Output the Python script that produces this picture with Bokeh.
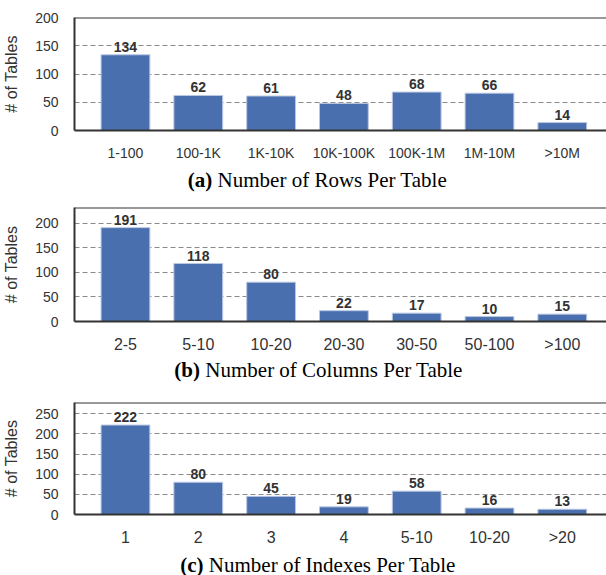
from bokeh.plotting import figure
from bokeh.models import Range1d, Span, FixedTicker, ColumnDataSource
from bokeh.layouts import column
from bokeh.embed import file_html
from bokeh.resources import INLINE
from bokeh.core.properties import value

# ---- data ----
rows_cats = ["1-100", "100-1K", "1K-10K", "10K-100K", "100K-1M", "1M-10M", ">10M"]
rows_vals = [134, 62, 61, 48, 68, 66, 14]
rows_yticks = [0, 50, 100, 150, 200]

cols_cats = ["2-5", "5-10", "10-20", "20-30", "30-50", "50-100", ">100"]
cols_vals = [191, 118, 80, 22, 17, 10, 15]
cols_yticks = [0, 50, 100, 150, 200]

idx_cats = ["1", "2", "3", "4", "5-10", "10-20", ">20"]
idx_vals = [222, 80, 45, 19, 58, 16, 13]
idx_yticks = [0, 50, 100, 150, 200, 250]

captions_bold = ["(a)", "(b)", "(c)"]
captions_rest = ["Number of Rows Per Table", "Number of Columns Per Table",
                 "Number of Indexes Per Table"]

SANS = "Liberation Sans"
SERIF = "Liberation Serif"
BAR = "#4a6fae"
DARK = "#333333"
W = 606


def make(cats, vals, yticks, ymax, xfont, frame_h, top, bottom):
    xs = list(range(len(cats)))
    src = ColumnDataSource(dict(x=xs, v=vals, lab=[str(v) for v in vals]))
    p = figure(frame_width=532, frame_height=frame_h,
               min_border_left=74, min_border_right=0, min_border_top=top,
               min_border_bottom=bottom,
               x_range=Range1d(-0.7, 6.607), y_range=Range1d(0, ymax),
               output_backend="svg", toolbar_location=None)
    p.outline_line_color = None
    p.xgrid.visible = False
    p.ygrid.ticker = FixedTicker(ticks=yticks[1:])
    p.ygrid.grid_line_color = "#8a8a8a"
    p.ygrid.grid_line_dash = "5 3"
    p.ygrid.grid_line_width = 1

    p.vbar(x="x", top="v", width=0.67, source=src,
           fill_color=BAR, line_color="#b9c7e2", line_width=1)
    p.text(x="x", y="v", text="lab", source=src, text_align="center",
           text_baseline="bottom", y_offset=-3,
           text_font=value(SANS), text_font_style="bold",
           text_font_size="14px", text_color=DARK)

    p.add_layout(Span(location=ymax, dimension="width", line_color=DARK, line_width=2))

    xa = p.xaxis[0]
    xa.ticker = FixedTicker(ticks=xs)
    xa.major_label_overrides = {i: c for i, c in zip(xs, cats)}
    xa.major_tick_line_color = None
    xa.minor_tick_line_color = None
    xa.axis_line_color = DARK
    xa.axis_line_width = 2
    xa.major_label_text_font = SANS
    xa.major_label_text_font_size = xfont
    xa.major_label_text_color = DARK
    xa.major_label_standoff = 8

    ya = p.yaxis[0]
    ya.ticker = FixedTicker(ticks=yticks)
    ya.major_tick_line_color = None
    ya.minor_tick_line_color = None
    ya.axis_line_color = DARK
    ya.axis_line_width = 2
    ya.major_label_text_font = SANS
    ya.major_label_text_font_size = "14px"
    ya.major_label_text_color = DARK
    ya.major_label_standoff = 10
    ya.axis_label = "# of Tables"
    ya.axis_label_text_font = SANS
    ya.axis_label_text_font_size = "16px"
    ya.axis_label_text_font_style = "normal"
    ya.axis_label_text_color = DARK
    ya.axis_label_standoff = 12
    return p


def caption(bold, rest, split_x, h, cy):
    c = figure(width=W, height=h, x_range=Range1d(0, W), y_range=Range1d(h, 0),
               x_axis_type=None, y_axis_type=None,
               min_border=0, output_backend="svg", toolbar_location=None)
    c.grid.visible = False
    c.outline_line_color = None
    c.text(x=[split_x], y=[cy], text=[bold], text_align="right", text_baseline="middle",
           text_font=value(SERIF), text_font_style="bold", text_font_size="21px",
           text_color="black")
    c.text(x=[split_x + 6], y=[cy], text=[rest], text_align="left", text_baseline="middle",
           text_font=value(SERIF), text_font_style="normal", text_font_size="21px",
           text_color="black")
    return c


pa = make(rows_cats, rows_vals, rows_yticks, 200, "14px", 113, 17, 35)
ca = caption(captions_bold[0], captions_rest[0], 157, 33, 14)
pb = make(cols_cats, cols_vals, cols_yticks, 232, "16px", 114, 9, 34)
cb = caption(captions_bold[1], captions_rest[1], 143, 38, 14)
pc = make(idx_cats, idx_vals, idx_yticks, 278, "16px", 112, 9, 34)
cc = caption(captions_bold[2], captions_rest[2], 147, 27, 16)

layout = column(pa, ca, pb, cb, pc, cc, spacing=0)
open("out.html", "w").write(file_html(layout, INLINE))
